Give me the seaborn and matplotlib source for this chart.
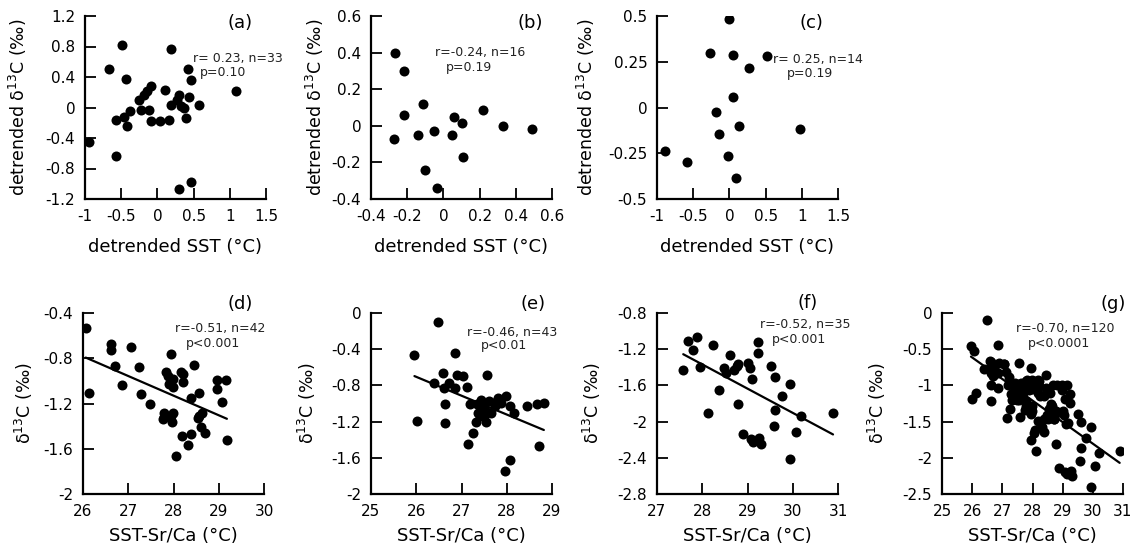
import numpy as np
import pandas as pd
import matplotlib
matplotlib.use("Agg")
import matplotlib.pyplot as plt
import seaborn as sns

# ---- data ----

# (a) detrended SST vs detrended d13C
a_x = [-0.94, -0.67, -0.49, -0.44, -0.57, -0.57, -0.46, -0.42, -0.38, -0.25, -0.18,
       -0.15, -0.09, -0.23, -0.11, -0.09, 0.03, 0.16, 0.10, 0.19, 0.19, 0.30, 0.27,
       0.32, 0.37, 0.40, 0.42, 0.46, 0.44, 0.57, 0.46, 0.30, 1.08]
a_y = [-0.45, 0.51, 0.82, 0.37, -0.63, -0.16, -0.12, -0.24, -0.05, 0.10, 0.17,
       0.21, 0.28, -0.03, -0.03, -0.18, -0.18, -0.16, 0.23, 0.77, 0.03, 0.17, 0.10,
       0.02, -0.01, -0.14, 0.51, 0.36, 0.14, 0.03, -0.98, -1.07, 0.22]

# (b)
b_x = [-0.266, -0.22, -0.275, -0.22, -0.11, -0.14, -0.10, -0.05, -0.035, 0.06,
       0.05, 0.105, 0.11, 0.22, 0.33, 0.49]
b_y = [0.40, 0.30, -0.074, 0.06, 0.12, -0.05, -0.24, -0.03, -0.34, 0.046,
       -0.05, 0.017, -0.17, 0.086, 0.0, -0.02]

# (c)
c_x = [0.0, -0.27, 0.056, 0.52, 0.27, 0.05, -0.19, 0.13, -0.15, 0.98, -0.89,
       -0.58, -0.014, 0.09]
c_y = [0.485, 0.30, 0.286, 0.28, 0.215, 0.06, -0.027, -0.10, -0.147, -0.12,
       -0.24, -0.30, -0.264, -0.387]

# (d) SST-Sr/Ca vs d13C
d_x = [26.06, 26.13, 26.61, 26.61, 26.70, 27.05, 26.87, 27.23, 27.28, 27.47,
       27.76, 27.78, 27.83, 27.94, 27.87, 27.98, 27.98, 27.94, 27.99, 27.97,
       27.89, 28.17, 28.20, 28.22, 28.46, 28.39, 28.18, 28.38, 28.33, 28.06,
       28.57, 28.57, 28.63, 28.61, 28.70, 28.97, 28.97, 29.07, 29.16, 29.18,
       27.80, 28.55]
d_y = [-0.53, -1.105, -0.67, -0.73, -0.865, -0.70, -1.04, -0.88, -1.12, -1.20,
       -1.34, -1.28, -0.92, -0.76, -0.96, -1.05, -0.98, -1.31, -1.28, -1.36,
       -1.03, -0.92, -0.94, -1.01, -0.86, -1.15, -1.49, -1.47, -1.57, -1.66,
       -1.105, -1.31, -1.28, -1.41, -1.46, -0.99, -1.07, -1.19, -0.99, -1.52,
       -1.32, -1.33]

# (e)
e_x = [26.48, 25.96, 26.01, 26.39, 26.60, 26.61, 26.64, 26.64, 26.86, 26.73,
       26.86, 26.89, 27.04, 27.13, 27.19, 27.15, 27.26, 27.32, 27.36, 27.43,
       27.47, 27.50, 27.54, 27.56, 27.61, 27.65, 27.73, 27.80, 27.87, 27.99,
       28.08, 28.17, 27.96, 28.08, 28.45, 28.67, 28.82, 28.71, 27.34, 27.41,
       27.57, 27.76, 27.47]
e_y = [-0.10, -0.46, -1.19, -0.775, -0.66, -0.83, -1.00, -1.21, -0.44, -0.775,
       -0.83, -0.69, -0.70, -0.82, -1.00, -1.45, -1.33, -1.20, -1.10, -0.96,
       -1.06, -1.14, -1.20, -0.69, -0.97, -1.11, -1.03, -0.94, -0.99, -0.92,
       -1.03, -1.11, -1.75, -1.62, -1.03, -1.00, -0.99, -1.47, -1.00, -1.14,
       -1.09, -0.98, -1.00]

# (f)
f_x = [27.58, 27.68, 27.79, 27.89, 27.96, 28.24, 28.13, 28.38, 28.48, 28.52,
       28.61, 28.70, 28.76, 28.79, 28.79, 28.89, 29.02, 29.05, 29.10, 29.07,
       29.13, 29.26, 29.30, 29.24, 29.24, 29.52, 29.61, 29.61, 29.59, 29.76,
       29.93, 29.93, 30.07, 30.19, 30.89]
f_y = [-1.43, -1.11, -1.21, -1.07, -1.40, -1.15, -1.91, -1.65, -1.41, -1.46,
       -1.26, -1.43, -1.39, -1.36, -1.81, -2.14, -1.35, -1.41, -1.53, -2.19,
       -2.22, -2.18, -2.25, -1.12, -1.24, -1.39, -1.51, -1.87, -2.05, -1.72,
       -1.58, -2.41, -2.11, -1.94, -1.91]

# (g) is all three sites together
g_x = d_x + e_x + f_x
g_y = d_y + e_y + f_y

# ticks
a_xticks = [-1, -0.5, 0, 0.5, 1, 1.5]
a_yticks = [-1.2, -0.8, -0.4, 0, 0.4, 0.8, 1.2]
b_xticks = [-0.4, -0.2, 0, 0.2, 0.4, 0.6]
b_yticks = [-0.4, -0.2, 0, 0.2, 0.4, 0.6]
c_xticks = [-1, -0.5, 0, 0.5, 1, 1.5]
c_yticks = [-0.5, -0.25, 0, 0.25, 0.5]
d_xticks = [26, 27, 28, 29, 30]
d_yticks = [-2, -1.6, -1.2, -0.8, -0.4]
e_xticks = [25, 26, 27, 28, 29]
e_yticks = [-2, -1.6, -1.2, -0.8, -0.4, 0]
f_xticks = [27, 28, 29, 30, 31]
f_yticks = [-2.8, -2.4, -2, -1.6, -1.2, -0.8]
g_xticks = [25, 26, 27, 28, 29, 30, 31]
g_yticks = [-2.5, -2, -1.5, -1, -0.5, 0]

stats = {
    "a": ("r= 0.23, n=33", "p=0.10"),
    "b": ("r=-0.24, n=16", "p=0.19"),
    "c": ("r= 0.25, n=14", "p=0.19"),
    "d": ("r=-0.51, n=42", "p<0.001"),
    "e": ("r=-0.46, n=43", "p<0.01"),
    "f": ("r=-0.52, n=35", "p<0.001"),
    "g": ("r=-0.70, n=120", "p<0.0001"),
}

# ---- style ----
sns.set_theme(style="ticks")
plt.rcParams["font.family"] = ["DejaVu Sans"]
plt.rcParams["axes.unicode_minus"] = False
plt.rcParams["mathtext.default"] = "regular"

fig = plt.figure(figsize=(11.36, 5.51), dpi=100)
W, H = 1136, 551

top_lbl = "detrended δ$^{13}$C (‰)"
bot_lbl = "δ$^{13}$C (‰)"

panels = [
    # key, x, y, xticks, yticks, left px, top px, bottom px, fit, xlabel, ylabel, ylabel x,
    # panel label / stats positions (axes fraction)
    ("a", a_x, a_y, a_xticks, a_yticks, 85, 16, 199, False, "detrended SST (°C)", top_lbl, -0.31,
     (0.856, 0.962), (0.597, 0.770), (0.635, 0.689)),
    ("b", b_x, b_y, b_xticks, b_yticks, 371, 16, 199, False, "detrended SST (°C)", top_lbl, -0.25,
     (0.878, 0.962), (0.354, 0.798), (0.414, 0.716)),
    ("c", c_x, c_y, c_xticks, c_yticks, 657, 16, 199, False, "detrended SST (°C)", top_lbl, -0.33,
     (0.856, 0.962), (0.641, 0.765), (0.718, 0.688)),
    ("d", d_x, d_y, d_xticks, d_yticks, 83, 313, 494, True, "SST-Sr/Ca (°C)", bot_lbl, -0.265,
     (0.868, 1.05), (0.511, 0.912), (0.571, 0.834)),
    ("e", e_x, e_y, e_xticks, e_yticks, 371, 313, 494, True, "SST-Sr/Ca (°C)", bot_lbl, -0.293,
     (0.894, 1.05), (0.533, 0.895), (0.606, 0.818)),
    ("f", f_x, f_y, f_xticks, f_yticks, 657, 313, 494, True, "SST-Sr/Ca (°C)", bot_lbl, -0.298,
     (0.833, 1.055), (0.569, 0.939), (0.635, 0.851)),
    ("g", g_x, g_y, g_xticks, g_yticks, 942, 313, 494, True, "SST-Sr/Ca (°C)", bot_lbl, -0.298,
     (0.945, 1.05), (0.409, 0.912), (0.475, 0.829)),
]

for key, x, y, xt, yt, lft, top, bot, fit, xl, yl, ylx, lab_pos, s1_pos, s2_pos in panels:
    ax = fig.add_axes([lft / W, 1 - bot / H, 181 / W, (bot - top) / H])
    df = pd.DataFrame({"x": x, "y": y})
    sns.scatterplot(data=df, x="x", y="y", ax=ax, color="black", s=52,
                    linewidth=0, zorder=3)
    if fit:
        sns.regplot(data=df, x="x", y="y", ax=ax, scatter=False, ci=None,
                    color="black", line_kws={"lw": 1.6})
    ax.set_xlim(xt[0], xt[-1])
    ax.set_ylim(yt[0], yt[-1])
    ax.set_xticks(xt)
    ax.set_yticks(yt)
    ax.set_xticklabels([f"{v:g}" for v in xt])
    ax.set_yticklabels([f"{v:g}" for v in yt])
    ax.tick_params(direction="in", length=8, width=1.3, labelsize=11, pad=7,
                   color="black", labelcolor="black")
    for s in ["top", "right"]:
        ax.spines[s].set_visible(False)
    for s in ["left", "bottom"]:
        ax.spines[s].set_linewidth(1.6)
        ax.spines[s].set_color("black")
    ax.set_xlabel(xl, fontsize=13, color="black")
    ax.set_ylabel(yl, fontsize=12.5, color="black")
    if key in "abc":
        ax.xaxis.set_label_coords(0.5, -0.215)
    else:
        ax.xaxis.set_label_coords(0.5, -0.185)
    ax.yaxis.set_label_coords(ylx, 0.5)
    ax.text(*lab_pos, f"({key})", transform=ax.transAxes, ha="center",
            va="center", fontsize=13, color="black")
    ax.text(*s1_pos, stats[key][0], transform=ax.transAxes, ha="left",
            va="center", fontsize=9, color="#222222")
    ax.text(*s2_pos, stats[key][1], transform=ax.transAxes, ha="left",
            va="center", fontsize=9, color="#222222")
    ax.set_facecolor("white")

fig.savefig("out.png", dpi=100, facecolor="white")
